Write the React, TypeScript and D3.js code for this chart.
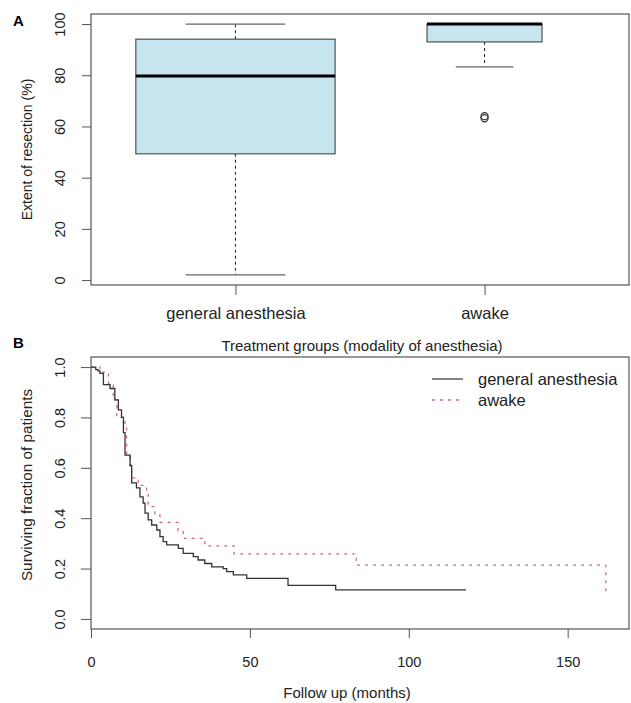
import { useEffect, useRef } from 'react'
import * as d3 from 'd3'

// Panel A: extent of resection per group (box plot stats)
const groups = ['general anesthesia', 'awake']
const groupN = [69, 23] // estimated from relative box widths (varwidth)
const whiskerLow = [2, 83.3]
const quart1 = [49.3, 93]
const medians = [79.7, 100]
const quart3 = [94.1, 100]
const whiskerHigh = [100, 100]
const outliers = [[], [64, 63.2]]
const yTicksA = [0, 20, 40, 60, 80, 100]

// Panel B: Kaplan-Meier curves
const gaTimes = [0, 1.5, 2.2, 2.8, 3.9, 6, 7.5, 8.6, 9.6, 10.2, 10.7, 12.3, 12.8, 14.3, 15.4, 16.4, 17, 18, 19.1, 20.7, 21.7, 22.7, 23.8, 27.5, 29, 32.2, 33.7, 35.8, 38, 41.6, 42.7, 44.8, 49, 62, 77, 118]
const gaSurv = [1, 0.99, 0.985, 0.975, 0.93, 0.915, 0.87, 0.83, 0.8, 0.74, 0.65, 0.61, 0.54, 0.52, 0.485, 0.46, 0.42, 0.393, 0.373, 0.353, 0.327, 0.307, 0.294, 0.28, 0.26, 0.247, 0.234, 0.22, 0.207, 0.2, 0.188, 0.175, 0.161, 0.133, 0.115, 0.115]
const awTimes = [0, 2.8, 5.5, 7, 8.1, 10.7, 11.2, 12.3, 12.8, 14.9, 17.5, 18, 20.1, 21.7, 27.4, 29, 35.8, 45, 83.5, 162, 162.6]
const awSurv = [1, 0.98, 0.935, 0.87, 0.8, 0.763, 0.65, 0.6, 0.56, 0.53, 0.5, 0.446, 0.413, 0.383, 0.35, 0.32, 0.29, 0.258, 0.214, 0.108, 0.108]
const xTicksB = [0, 50, 100, 150]
const yTicksB = [0, 0.2, 0.4, 0.6, 0.8, 1.0]

const FONT = '"Liberation Sans", Arial, Helvetica, sans-serif'
const AXIS = '#555'
const TEXT = '#222'
const RED = '#cf6b7c'

export default function App() {
  const ref = useRef<SVGSVGElement | null>(null)

  useEffect(() => {
    if (!ref.current) return
    const svg = d3.select(ref.current)
    svg.selectAll('*').remove()
    svg.style('font-family', FONT)

    // ---------- Panel A ----------
    const a = { left: 91, right: 629, top: 14, bottom: 285 }
    const xA = d3.scalePoint().domain(groups).range([a.left, a.right]).padding(0.58)
    const yA = d3.scaleLinear().domain([-1.92, 103.92]).range([a.bottom, a.top])
    const step = xA.step()
    const maxN = d3.max(groupN) || 1

    const gA = svg.append('g')

    gA.append('g')
      .attr('transform', `translate(${a.left},0)`)
      .call(d3.axisLeft(yA).tickValues(yTicksA).tickSize(9).tickSizeOuter(0).tickFormat(d3.format('d')))
      .call((g) => g.select('.domain').remove())
      .call((g) => g.selectAll('line').attr('stroke', AXIS))
      .selectAll('text')
      .attr('transform', 'rotate(-90)')
      .attr('x', 0)
      .attr('y', -26)
      .attr('dy', 0)
      .attr('text-anchor', 'middle')
      .style('font-size', '14.5px')
      .style('font-family', FONT)
      .attr('fill', TEXT)

    gA.append('g')
      .attr('transform', `translate(0,${a.bottom})`)
      .call(d3.axisBottom(xA).tickSize(10).tickSizeOuter(0))
      .call((g) => g.select('.domain').remove())
      .call((g) => g.selectAll('line').attr('stroke', AXIS))
      .selectAll('text')
      .attr('y', 22)
      .attr('dy', '0.71em')
      .style('font-size', '16.5px')
      .style('font-family', FONT)
      .attr('fill', TEXT)

    groups.forEach((grp, i) => {
      const cx = xA(grp) || 0
      const w = 0.8 * step * Math.sqrt(groupN[i] / maxN)
      const g = gA.append('g')
      // whiskers
      g.append('line').attr('x1', cx).attr('x2', cx).attr('y1', yA(quart1[i])).attr('y2', yA(whiskerLow[i]))
        .attr('stroke', '#333').attr('stroke-width', 1.1).attr('stroke-dasharray', '3,3')
      g.append('line').attr('x1', cx).attr('x2', cx).attr('y1', yA(quart3[i])).attr('y2', yA(whiskerHigh[i]))
        .attr('stroke', '#333').attr('stroke-width', 1.1).attr('stroke-dasharray', '3,3')
      // caps
      ;[whiskerLow[i], whiskerHigh[i]].forEach((v) => {
        g.append('line').attr('x1', cx - w / 4).attr('x2', cx + w / 4).attr('y1', yA(v)).attr('y2', yA(v))
          .attr('stroke', '#666').attr('stroke-width', 1.2)
      })
      // box
      g.append('rect')
        .attr('x', cx - w / 2)
        .attr('width', w)
        .attr('y', yA(quart3[i]))
        .attr('height', Math.max(0, yA(quart1[i]) - yA(quart3[i])))
        .attr('fill', '#c6e5ee')
        .attr('stroke', '#333')
        .attr('stroke-width', 1)
      // median
      g.append('line').attr('x1', cx - w / 2).attr('x2', cx + w / 2).attr('y1', yA(medians[i])).attr('y2', yA(medians[i]))
        .attr('stroke', '#000').attr('stroke-width', 3)
      // outliers
      g.selectAll('circle.out').data(outliers[i]).join('circle')
        .attr('cx', cx).attr('cy', (d) => yA(d)).attr('r', 3.6)
        .attr('fill', 'none').attr('stroke', '#333').attr('stroke-width', 1.1)
    })

    gA.append('rect')
      .attr('x', a.left).attr('y', a.top).attr('width', a.right - a.left).attr('height', a.bottom - a.top)
      .attr('fill', 'none').attr('stroke', AXIS).attr('stroke-width', 1.2)

    gA.append('text')
      .attr('transform', `translate(32,${(a.top + a.bottom) / 2}) rotate(-90)`)
      .attr('text-anchor', 'middle').style('font-size', '14px').attr('fill', TEXT)
      .text('Extent of resection (%)')

    svg.append('text').attr('x', 13).attr('y', 26).style('font-size', '15px').style('font-weight', 'bold')
      .attr('fill', '#000').text('A')

    // ---------- Panel B ----------
    const b = { left: 91, right: 629, top: 357, bottom: 629 }
    const xB = d3.scaleLinear().domain([0, 169.3]).range([b.left, b.right])
    const yB = d3.scaleLinear().domain([-0.04, 1.04]).range([b.bottom, b.top])
    const gB = svg.append('g')

    gB.append('g')
      .attr('transform', `translate(${b.left},0)`)
      .call(d3.axisLeft(yB).tickValues(yTicksB).tickSize(10).tickSizeOuter(0).tickFormat(d3.format('.1f')))
      .call((g) => g.select('.domain').remove())
      .call((g) => g.selectAll('line').attr('stroke', AXIS))
      .selectAll('text')
      .attr('transform', 'rotate(-90)')
      .attr('x', 0)
      .attr('y', -26)
      .attr('dy', 0)
      .attr('text-anchor', 'middle')
      .style('font-size', '14.5px')
      .style('font-family', FONT)
      .attr('fill', TEXT)

    gB.append('g')
      .attr('transform', `translate(0,${b.bottom})`)
      .call(d3.axisBottom(xB).tickValues(xTicksB).tickSize(9).tickSizeOuter(0).tickFormat(d3.format('d')))
      .call((g) => g.select('.domain').remove())
      .call((g) => g.selectAll('line').attr('stroke', AXIS))
      .selectAll('text')
      .attr('y', 28)
      .attr('dy', '0.71em')
      .style('font-size', '14.5px')
      .style('font-family', FONT)
      .attr('fill', TEXT)

    const line = d3.line<[number, number]>()
      .x((d) => xB(d[0]))
      .y((d) => yB(d[1]))
      .curve(d3.curveStepAfter)

    gB.append('path')
      .datum(awTimes.map((t, i) => [t, awSurv[i]] as [number, number]))
      .attr('d', line)
      .attr('fill', 'none').attr('stroke', RED).attr('stroke-width', 1.3).attr('stroke-dasharray', '3,5')

    gB.append('path')
      .datum(gaTimes.map((t, i) => [t, gaSurv[i]] as [number, number]))
      .attr('d', line)
      .attr('fill', 'none').attr('stroke', '#333').attr('stroke-width', 1.3)

    gB.append('rect')
      .attr('x', b.left).attr('y', b.top).attr('width', b.right - b.left).attr('height', b.bottom - b.top)
      .attr('fill', 'none').attr('stroke', AXIS).attr('stroke-width', 1.2)

    // legend
    const leg = gB.append('g')
    leg.append('line').attr('x1', 432).attr('x2', 463).attr('y1', 379).attr('y2', 379)
      .attr('stroke', '#444').attr('stroke-width', 1.3)
    leg.append('line').attr('x1', 432).attr('x2', 463).attr('y1', 400).attr('y2', 400)
      .attr('stroke', RED).attr('stroke-width', 1.3).attr('stroke-dasharray', '3,5')
    leg.append('text').attr('x', 478).attr('y', 385).style('font-size', '16.5px').attr('fill', TEXT).text('general anesthesia')
    leg.append('text').attr('x', 478).attr('y', 406).style('font-size', '16.5px').attr('fill', TEXT).text('awake')

    gB.append('text').attr('x', 362).attr('y', 351).attr('text-anchor', 'middle')
      .style('font-size', '15px').attr('fill', TEXT).text('Treatment groups (modality of anesthesia)')

    gB.append('text').attr('x', (b.left + b.right) / 2 - 13).attr('y', 698).attr('text-anchor', 'middle')
      .style('font-size', '15px').attr('fill', TEXT).text('Follow up (months)')

    gB.append('text')
      .attr('transform', `translate(32,${(b.top + b.bottom) / 2 - 8}) rotate(-90)`)
      .attr('text-anchor', 'middle').style('font-size', '15.3px').attr('fill', TEXT)
      .text('Surviving fraction of patients')

    svg.append('text').attr('x', 13).attr('y', 348).style('font-size', '15px').style('font-weight', 'bold')
      .attr('fill', '#000').text('B')
  }, [])

  return (
    <div style={{ position: 'absolute', left: 0, top: 0 }}>
      <svg ref={ref} width={631} height={703} style={{ display: 'block', background: '#fff' }} />
    </div>
  )
}
